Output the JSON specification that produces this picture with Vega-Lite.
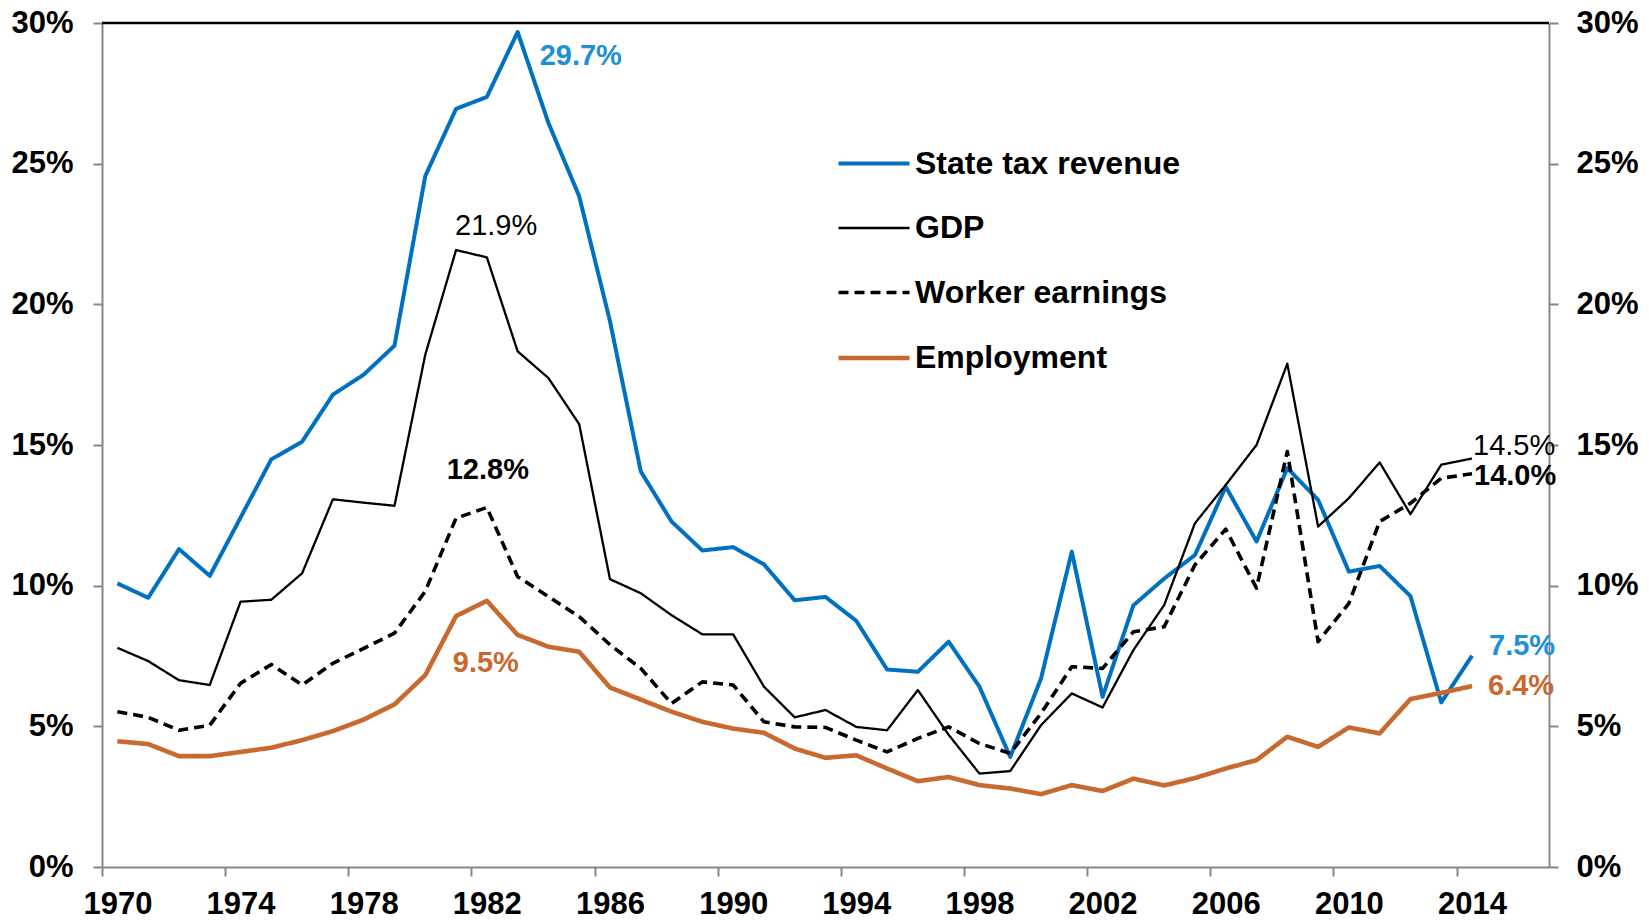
{
  "$schema": "https://vega.github.io/schema/vega-lite/v6.json",
  "width": 1447,
  "height": 844,
  "autosize": {"type": "none"},
  "padding": {"left": 102, "top": 23, "right": 100, "bottom": 53},
  "background": "white",
  "config": {"view": {"stroke": null}, "font": "Liberation Sans"},
  "data": {"values": [
    {"year": 1970, "State tax revenue": 0.1008, "GDP": 0.0779, "Worker earnings": 0.0552, "Employment": 0.0447},
    {"year": 1971, "State tax revenue": 0.0957, "GDP": 0.0732, "Worker earnings": 0.0532, "Employment": 0.0437},
    {"year": 1972, "State tax revenue": 0.1130, "GDP": 0.0664, "Worker earnings": 0.0486, "Employment": 0.0394},
    {"year": 1973, "State tax revenue": 0.1035, "GDP": 0.0647, "Worker earnings": 0.0504, "Employment": 0.0394},
    {"year": 1974, "State tax revenue": 0.1242, "GDP": 0.0943, "Worker earnings": 0.0653, "Employment": 0.0409},
    {"year": 1975, "State tax revenue": 0.1449, "GDP": 0.0950, "Worker earnings": 0.0720, "Employment": 0.0424},
    {"year": 1976, "State tax revenue": 0.1512, "GDP": 0.1044, "Worker earnings": 0.0647, "Employment": 0.0451},
    {"year": 1977, "State tax revenue": 0.1679, "GDP": 0.1307, "Worker earnings": 0.0724, "Employment": 0.0483},
    {"year": 1978, "State tax revenue": 0.1750, "GDP": 0.1295, "Worker earnings": 0.0777, "Employment": 0.0524},
    {"year": 1979, "State tax revenue": 0.1853, "GDP": 0.1284, "Worker earnings": 0.0831, "Employment": 0.0578},
    {"year": 1980, "State tax revenue": 0.2456, "GDP": 0.1821, "Worker earnings": 0.0980, "Employment": 0.0682},
    {"year": 1981, "State tax revenue": 0.2695, "GDP": 0.2193, "Worker earnings": 0.1240, "Employment": 0.0892},
    {"year": 1982, "State tax revenue": 0.2737, "GDP": 0.2167, "Worker earnings": 0.1278, "Employment": 0.0946},
    {"year": 1983, "State tax revenue": 0.2968, "GDP": 0.1833, "Worker earnings": 0.1032, "Employment": 0.0825},
    {"year": 1984, "State tax revenue": 0.2645, "GDP": 0.1738, "Worker earnings": 0.0961, "Employment": 0.0783},
    {"year": 1985, "State tax revenue": 0.2384, "GDP": 0.1574, "Worker earnings": 0.0890, "Employment": 0.0765},
    {"year": 1986, "State tax revenue": 0.1940, "GDP": 0.1023, "Worker earnings": 0.0790, "Employment": 0.0638},
    {"year": 1987, "State tax revenue": 0.1406, "GDP": 0.0973, "Worker earnings": 0.0706, "Employment": 0.0595},
    {"year": 1988, "State tax revenue": 0.1228, "GDP": 0.0895, "Worker earnings": 0.0581, "Employment": 0.0552},
    {"year": 1989, "State tax revenue": 0.1125, "GDP": 0.0827, "Worker earnings": 0.0658, "Employment": 0.0516},
    {"year": 1990, "State tax revenue": 0.1137, "GDP": 0.0827, "Worker earnings": 0.0647, "Employment": 0.0492},
    {"year": 1991, "State tax revenue": 0.1076, "GDP": 0.0641, "Worker earnings": 0.0516, "Employment": 0.0477},
    {"year": 1992, "State tax revenue": 0.0948, "GDP": 0.0532, "Worker earnings": 0.0498, "Employment": 0.0421},
    {"year": 1993, "State tax revenue": 0.0960, "GDP": 0.0558, "Worker earnings": 0.0496, "Employment": 0.0388},
    {"year": 1994, "State tax revenue": 0.0875, "GDP": 0.0498, "Worker earnings": 0.0451, "Employment": 0.0397},
    {"year": 1995, "State tax revenue": 0.0702, "GDP": 0.0486, "Worker earnings": 0.0409, "Employment": 0.0350},
    {"year": 1996, "State tax revenue": 0.0694, "GDP": 0.0629, "Worker earnings": 0.0457, "Employment": 0.0305},
    {"year": 1997, "State tax revenue": 0.0801, "GDP": 0.0470, "Worker earnings": 0.0498, "Employment": 0.0320},
    {"year": 1998, "State tax revenue": 0.0641, "GDP": 0.0332, "Worker earnings": 0.0439, "Employment": 0.0291},
    {"year": 1999, "State tax revenue": 0.0391, "GDP": 0.0341, "Worker earnings": 0.0404, "Employment": 0.0279},
    {"year": 2000, "State tax revenue": 0.0670, "GDP": 0.0504, "Worker earnings": 0.0546, "Employment": 0.0259},
    {"year": 2001, "State tax revenue": 0.1121, "GDP": 0.0617, "Worker earnings": 0.0712, "Employment": 0.0291},
    {"year": 2002, "State tax revenue": 0.0605, "GDP": 0.0567, "Worker earnings": 0.0706, "Employment": 0.0270},
    {"year": 2003, "State tax revenue": 0.0930, "GDP": 0.0771, "Worker earnings": 0.0836, "Employment": 0.0314},
    {"year": 2004, "State tax revenue": 0.1025, "GDP": 0.0931, "Worker earnings": 0.0854, "Employment": 0.0290},
    {"year": 2005, "State tax revenue": 0.1109, "GDP": 0.1222, "Worker earnings": 0.1074, "Employment": 0.0316},
    {"year": 2006, "State tax revenue": 0.1352, "GDP": 0.1358, "Worker earnings": 0.1201, "Employment": 0.0350},
    {"year": 2007, "State tax revenue": 0.1157, "GDP": 0.1500, "Worker earnings": 0.0991, "Employment": 0.0380},
    {"year": 2008, "State tax revenue": 0.1418, "GDP": 0.1789, "Worker earnings": 0.1477, "Employment": 0.0463},
    {"year": 2009, "State tax revenue": 0.1305, "GDP": 0.1210, "Worker earnings": 0.0801, "Employment": 0.0427},
    {"year": 2010, "State tax revenue": 0.1050, "GDP": 0.1311, "Worker earnings": 0.0937, "Employment": 0.0496},
    {"year": 2011, "State tax revenue": 0.1070, "GDP": 0.1438, "Worker earnings": 0.1228, "Employment": 0.0475},
    {"year": 2012, "State tax revenue": 0.0963, "GDP": 0.1254, "Worker earnings": 0.1293, "Employment": 0.0597},
    {"year": 2013, "State tax revenue": 0.0585, "GDP": 0.1430, "Worker earnings": 0.1382, "Employment": 0.0619},
    {"year": 2014, "State tax revenue": 0.0751, "GDP": 0.1452, "Worker earnings": 0.1398, "Employment": 0.0643}
  ]},
  "transform": [
    {"fold": ["State tax revenue", "GDP", "Worker earnings", "Employment"], "as": ["series", "value"]}
  ],
  "layer": [
    {
      "mark": {"type": "line", "strokeCap": "butt", "strokeJoin": "round"},
      "encoding": {
        "x": {
          "field": "year", "type": "quantitative",
          "scale": {"domain": [1969.5, 2016.5], "nice": false, "zero": false},
          "axis": {
            "title": null, "values": [1970, 1974, 1978, 1982, 1986, 1990, 1994, 1998, 2002, 2006, 2010, 2014],
            "format": "d", "tickOffset": -15.4, "labelOffset": 15.4, "labelFlush": false, "labelOverlap": false,
            "grid": false, "domainColor": "#878787", "domainWidth": 2, "tickColor": "#878787", "tickWidth": 2, "tickSize": 9,
            "labelFont": "Liberation Sans", "labelFontSize": 31, "labelFontWeight": "bold", "labelColor": "#000000", "labelPadding": 13
          }
        },
        "y": {
          "field": "value", "type": "quantitative",
          "scale": {"domain": [0, 0.3], "nice": false},
          "axis": {
            "title": null, "orient": "left", "values": [0, 0.05, 0.1, 0.15, 0.2, 0.25, 0.3], "format": ".0%",
            "grid": false, "domainColor": "#878787", "domainWidth": 2, "tickColor": "#878787", "tickWidth": 2, "tickSize": 9,
            "labelFont": "Liberation Sans", "labelFontSize": 31, "labelFontWeight": "bold", "labelColor": "#000000", "labelPadding": 20, "labelFlush": false
          }
        },
        "color": {
          "field": "series", "type": "nominal",
          "scale": {"domain": ["State tax revenue", "GDP", "Worker earnings", "Employment"], "range": ["#0070C0", "#000000", "#000000", "#C8692F"]},
          "legend": {"title": null, "orient": "none", "legendX": 734, "legendY": 103, "padding": 0, "symbolType": "stroke", "symbolSize": 5041, "labelFont": "Liberation Sans", "labelFontSize": 32, "labelFontWeight": "bold", "labelColor": "#000000", "labelOffset": 3, "labelLimit": 600, "rowPadding": 11}
        },
        "strokeDash": {
          "field": "series", "type": "nominal",
          "scale": {"domain": ["State tax revenue", "GDP", "Worker earnings", "Employment"], "range": [[1, 0], [1, 0], [10, 6], [1, 0]]},
          "legend": {"title": null, "orient": "none", "legendX": 734, "legendY": 103, "padding": 0, "symbolType": "stroke", "symbolSize": 5041, "labelFont": "Liberation Sans", "labelFontSize": 32, "labelFontWeight": "bold", "labelColor": "#000000", "labelOffset": 3, "labelLimit": 600, "rowPadding": 11}
        },
        "strokeWidth": {
          "field": "series", "type": "nominal",
          "scale": {"type": "ordinal", "domain": ["State tax revenue", "GDP", "Worker earnings", "Employment"], "range": [4, 2.3, 3.6, 4.6]},
          "legend": {"title": null, "orient": "none", "legendX": 734, "legendY": 103, "padding": 0, "symbolType": "stroke", "symbolSize": 5041, "labelFont": "Liberation Sans", "labelFontSize": 32, "labelFontWeight": "bold", "labelColor": "#000000", "labelOffset": 3, "labelLimit": 600, "rowPadding": 11}
        }
      }
    },
    {
      "data": {"values": [{}]},
      "mark": {"type": "rule", "color": "#000000", "strokeWidth": 2.5},
      "encoding": {
        "y": {
          "datum": 0.3, "type": "quantitative",
          "axis": {
            "title": null, "orient": "right", "values": [0, 0.05, 0.1, 0.15, 0.2, 0.25, 0.3], "format": ".0%",
            "grid": false, "domainColor": "#878787", "domainWidth": 2, "tickColor": "#878787", "tickWidth": 2, "tickSize": 9,
            "labelFont": "Liberation Sans", "labelFontSize": 31, "labelFontWeight": "bold", "labelColor": "#000000", "labelPadding": 18, "labelFlush": false
          }
        }
      }
    },
    {
      "transform": [{"filter": "datum.year == 1983 && datum.series == 'State tax revenue'"}],
      "mark": {"type": "text", "align": "left", "baseline": "middle", "dx": 22, "dy": 24, "fontSize": 29, "fontWeight": "bold", "color": "#1F8FD8", "font": "Liberation Sans"},
      "encoding": {"x": {"field": "year", "type": "quantitative"}, "y": {"field": "value", "type": "quantitative", "axis": null}, "text": {"field": "value", "type": "quantitative", "format": ".1%"}}
    },
    {
      "transform": [{"filter": "datum.year == 1981 && datum.series == 'GDP'"}],
      "mark": {"type": "text", "align": "left", "baseline": "middle", "dx": -1, "dy": -24, "fontSize": 29, "fontWeight": "normal", "color": "#000000", "font": "Liberation Sans"},
      "encoding": {"x": {"field": "year", "type": "quantitative"}, "y": {"field": "value", "type": "quantitative", "axis": null}, "text": {"field": "value", "type": "quantitative", "format": ".1%"}}
    },
    {
      "transform": [{"filter": "datum.year == 1982 && datum.series == 'Worker earnings'"}],
      "mark": {"type": "text", "align": "center", "baseline": "middle", "dx": 1, "dy": -37, "fontSize": 29, "fontWeight": "bold", "color": "#000000", "font": "Liberation Sans"},
      "encoding": {"x": {"field": "year", "type": "quantitative"}, "y": {"field": "value", "type": "quantitative", "axis": null}, "text": {"field": "value", "type": "quantitative", "format": ".1%"}}
    },
    {
      "transform": [{"filter": "datum.year == 1982 && datum.series == 'Employment'"}],
      "mark": {"type": "text", "align": "center", "baseline": "middle", "dx": -1, "dy": 62, "fontSize": 29, "fontWeight": "bold", "color": "#C8692F", "font": "Liberation Sans"},
      "encoding": {"x": {"field": "year", "type": "quantitative"}, "y": {"field": "value", "type": "quantitative", "axis": null}, "text": {"field": "value", "type": "quantitative", "format": ".1%"}}
    },
    {
      "transform": [{"filter": "datum.year == 2014 && datum.series == 'GDP'"}],
      "mark": {"type": "text", "align": "left", "baseline": "middle", "dx": 1, "dy": -13, "fontSize": 29, "fontWeight": "normal", "color": "#000000", "font": "Liberation Sans"},
      "encoding": {"x": {"field": "year", "type": "quantitative"}, "y": {"field": "value", "type": "quantitative", "axis": null}, "text": {"field": "value", "type": "quantitative", "format": ".1%"}}
    },
    {
      "transform": [{"filter": "datum.year == 2014 && datum.series == 'Worker earnings'"}],
      "mark": {"type": "text", "align": "left", "baseline": "middle", "dx": 2, "dy": 2, "fontSize": 29, "fontWeight": "bold", "color": "#000000", "font": "Liberation Sans"},
      "encoding": {"x": {"field": "year", "type": "quantitative"}, "y": {"field": "value", "type": "quantitative", "axis": null}, "text": {"field": "value", "type": "quantitative", "format": ".1%"}}
    },
    {
      "transform": [{"filter": "datum.year == 2014 && datum.series == 'State tax revenue'"}],
      "mark": {"type": "text", "align": "left", "baseline": "middle", "dx": 17, "dy": -10, "fontSize": 29, "fontWeight": "bold", "color": "#1F8FD8", "font": "Liberation Sans"},
      "encoding": {"x": {"field": "year", "type": "quantitative"}, "y": {"field": "value", "type": "quantitative", "axis": null}, "text": {"field": "value", "type": "quantitative", "format": ".1%"}}
    },
    {
      "transform": [{"filter": "datum.year == 2014 && datum.series == 'Employment'"}],
      "mark": {"type": "text", "align": "left", "baseline": "middle", "dx": 16, "dy": 0, "fontSize": 29, "fontWeight": "bold", "color": "#C8692F", "font": "Liberation Sans"},
      "encoding": {"x": {"field": "year", "type": "quantitative"}, "y": {"field": "value", "type": "quantitative", "axis": null}, "text": {"field": "value", "type": "quantitative", "format": ".1%"}}
    }
  ],
  "resolve": {"axis": {"y": "independent"}}
}
